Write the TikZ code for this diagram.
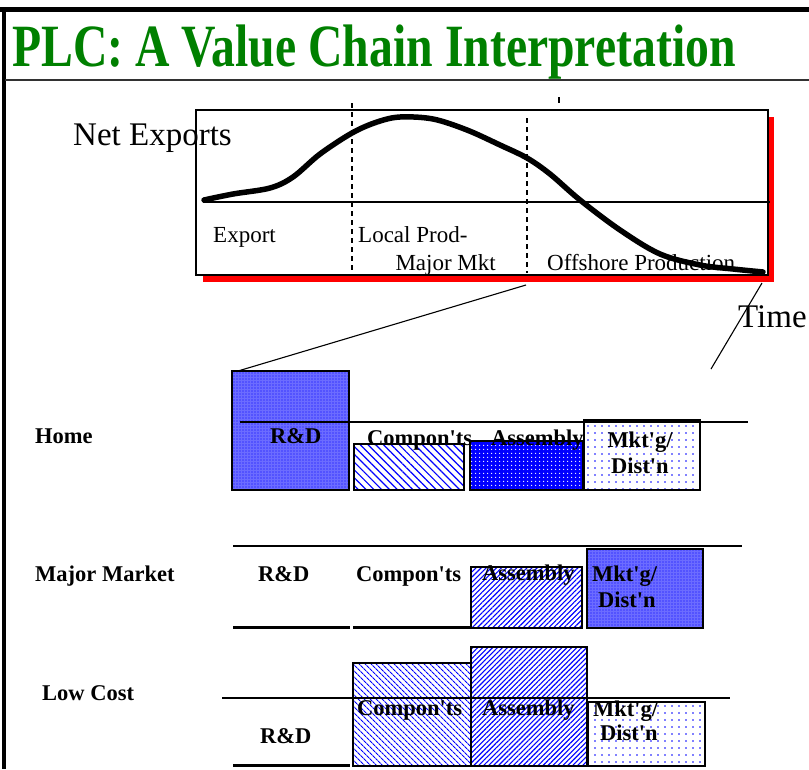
\documentclass[tikz,border=0pt]{standalone}
\usepackage{fontspec}
\usepackage{graphicx}
\setmainfont{Liberation Serif}
\usetikzlibrary{patterns.meta}

\definecolor{titlegreen}{RGB}{0,128,0}
\definecolor{midblue}{RGB}{108,108,255}
\definecolor{shadowred}{RGB}{255,0,0}
\definecolor{rulegray}{RGB}{50,50,50}

% straight apostrophe, as in the stage names
\newcommand{\ap}{\textquotesingle}

\tikzset{
  rowlabel/.style={font=\fontsize{22.5}{26}\selectfont\bfseries, inner sep=0pt, anchor=base west},
  chartlabel/.style={font=\fontsize{23}{27}\selectfont, inner sep=0pt, anchor=base west},
  axislabel/.style={font=\fontsize{33}{38}\selectfont, inner sep=0pt, anchor=base west},
  stagebox/.style={draw=black, line width=1.6pt, inner sep=0pt, outer sep=0pt, anchor=north west},
  densedots/.style={stagebox, preaction={fill=midblue}, pattern={Dots[distance=3pt, radius=0.7pt]}, pattern color=blue},
  bluedots/.style={stagebox, preaction={fill=blue}, pattern={Dots[distance=4pt, radius=0.8pt]}, pattern color=white},
  sparsedots/.style={stagebox, fill=white, pattern={Dots[distance=7pt, radius=0.9pt]}, pattern color=blue},
  backhatch/.style={stagebox, preaction={fill=white}, pattern={Lines[angle=-45, distance=#1, line width=1.2pt]}, pattern color=blue},
  forehatch/.style={stagebox, preaction={fill=white}, pattern={Lines[angle=45, distance=#1, line width=1.1pt]}, pattern color=blue},
  thinrule/.style={line width=1.3pt},
  thickrule/.style={line width=3pt},
  zoomline/.style={line width=1.1pt},
  stagedash/.style={line width=1.3pt, dash pattern=on 5pt off 4pt},
}

\begin{document}
\begin{tikzpicture}[x=1pt, y=-1pt]
\useasboundingbox (0,0) rectangle (809,769);
\fill[white] (0,0) rectangle (809,769);

% frame and title band
\draw[line width=5pt] (0,9.5) -- (809,9.5);
\draw[line width=4pt] (4,7) -- (4,769);
\draw[line width=2pt, rulegray] (5,79.5) -- (809,79.5);
\node[anchor=base west, inner sep=0pt, text=titlegreen,
      font=\fontsize{60}{66}\selectfont\bfseries] (title) at (12,66.5)
      {\scalebox{0.795}[1]{PLC: A Value Chain Interpretation}};

% life-cycle chart with red drop shadow
\fill[shadowred] (203,117) rectangle (774,282);
\draw[line width=1.4pt, fill=white] (196,110) rectangle (768,275);
\draw[thinrule] (203,202) -- (770,202);
\draw[stagedash] (352,103) -- (352,275);
\draw[stagedash] (527,118) -- (527,273);
\draw[line width=1.2pt] (559,97) -- (559,103);
\draw[line width=5.5pt, line cap=round, line join=round]
  plot[smooth, tension=0.55] coordinates {
    (204,200) (233,194) (270,188) (293,177) (320,154) (352,133)
    (377,122) (400,117) (433,119) (467,130) (500,145) (527,158)
    (550,174) (580,200) (620,230) (660,254) (700,265) (733,269) (763,272)};

\node[axislabel] (netexp) at (73,145) {Net Exports};
\node[chartlabel] (export) at (213,242) {Export};
\node[chartlabel] (localprod) at (358,242) {Local Prod-};
\node[chartlabel, anchor=base east] (majormkt) at (496,270) {Major Mkt};
\node[chartlabel] (offshore) at (547,270) {Offshore Production};

% links from the chart down to the value chain
\coordinate (stagecut) at (526,285);
\coordinate (timecut) at (762,283);
\coordinate (timeend) at (711,369);
\draw[zoomline] (timecut) -- (timeend);
\node[axislabel] (time) at (738,327) {Time};

% ---------- Home ----------
\node[densedots, minimum width=117pt, minimum height=119pt] (hrd) at (232,371) {};
\node[backhatch=5.5pt, minimum width=110pt, minimum height=46pt] (hcomp) at (354,444) {};
\node[bluedots, minimum width=113pt, minimum height=49pt] (hasm) at (470,441) {};
\node[sparsedots, minimum width=116pt, minimum height=70pt] (hmkt) at (584,420) {};
\draw[line width=3pt] (hmkt.north west) -- (hmkt.north east);
\draw[zoomline] (stagecut) -- ([xshift=6pt]hrd.north west);
\draw[thinrule] (240,422) -- (748,422);

\node[rowlabel] (home) at (35,443) {Home};
\node[rowlabel] (hrdt) at (270,443) {R\&D};
\node[rowlabel] (hcompt) at (367,445) {Compon\ap ts};
\node[rowlabel] (hasmt) at (491,445) {Assembly};
\node[rowlabel, anchor=base] (hmktt) at (640,447) {Mkt\ap g/};
\node[rowlabel, anchor=base] (hdistt) at (640,473) {Dist\ap n};

% ---------- Major Market ----------
\draw[thinrule] (233,546) -- (742,546);
\draw[thickrule] (233,627) -- (350,627);
\draw[thickrule] (353,627) -- (471,627);
\node[forehatch=3.6pt, minimum width=111pt, minimum height=61pt] (masm) at (471,567) {};
\node[densedots, minimum width=116pt, minimum height=79pt] (mmkt) at (587,549) {};

\node[rowlabel] (major) at (35,581) {Major Market};
\node[rowlabel] (mrdt) at (258,581) {R\&D};
\node[rowlabel] (mcompt) at (356,581) {Compon\ap ts};
\node[rowlabel] (masmt) at (482,580) {Assembly};
\node[rowlabel] (mmktt) at (592,581) {Mkt\ap g/};
\node[rowlabel] (mdistt) at (598,607) {Dist\ap n};

% ---------- Low Cost ----------
\node[backhatch=4pt, minimum width=118pt, minimum height=103pt] (lcomp) at (353,663) {};
\node[forehatch=3.5pt, minimum width=116pt, minimum height=119pt] (lasm) at (471,647) {};
\node[sparsedots, minimum width=117pt, minimum height=64pt] (lmkt) at (588,702) {};
\draw[thinrule] (222,698) -- (730,698);
\draw[thickrule] (233,765) -- (350,765);

\node[rowlabel] (low) at (42,700) {Low Cost};
\node[rowlabel] (lrdt) at (260,743) {R\&D};
\node[rowlabel] (lcompt) at (357,715) {Compon\ap ts};
\node[rowlabel] (lasmt) at (482,715) {Assembly};
\node[rowlabel] (lmktt) at (593,716) {Mkt\ap g/};
\node[rowlabel] (ldistt) at (600,740) {Dist\ap n};
\end{tikzpicture}
\end{document}
